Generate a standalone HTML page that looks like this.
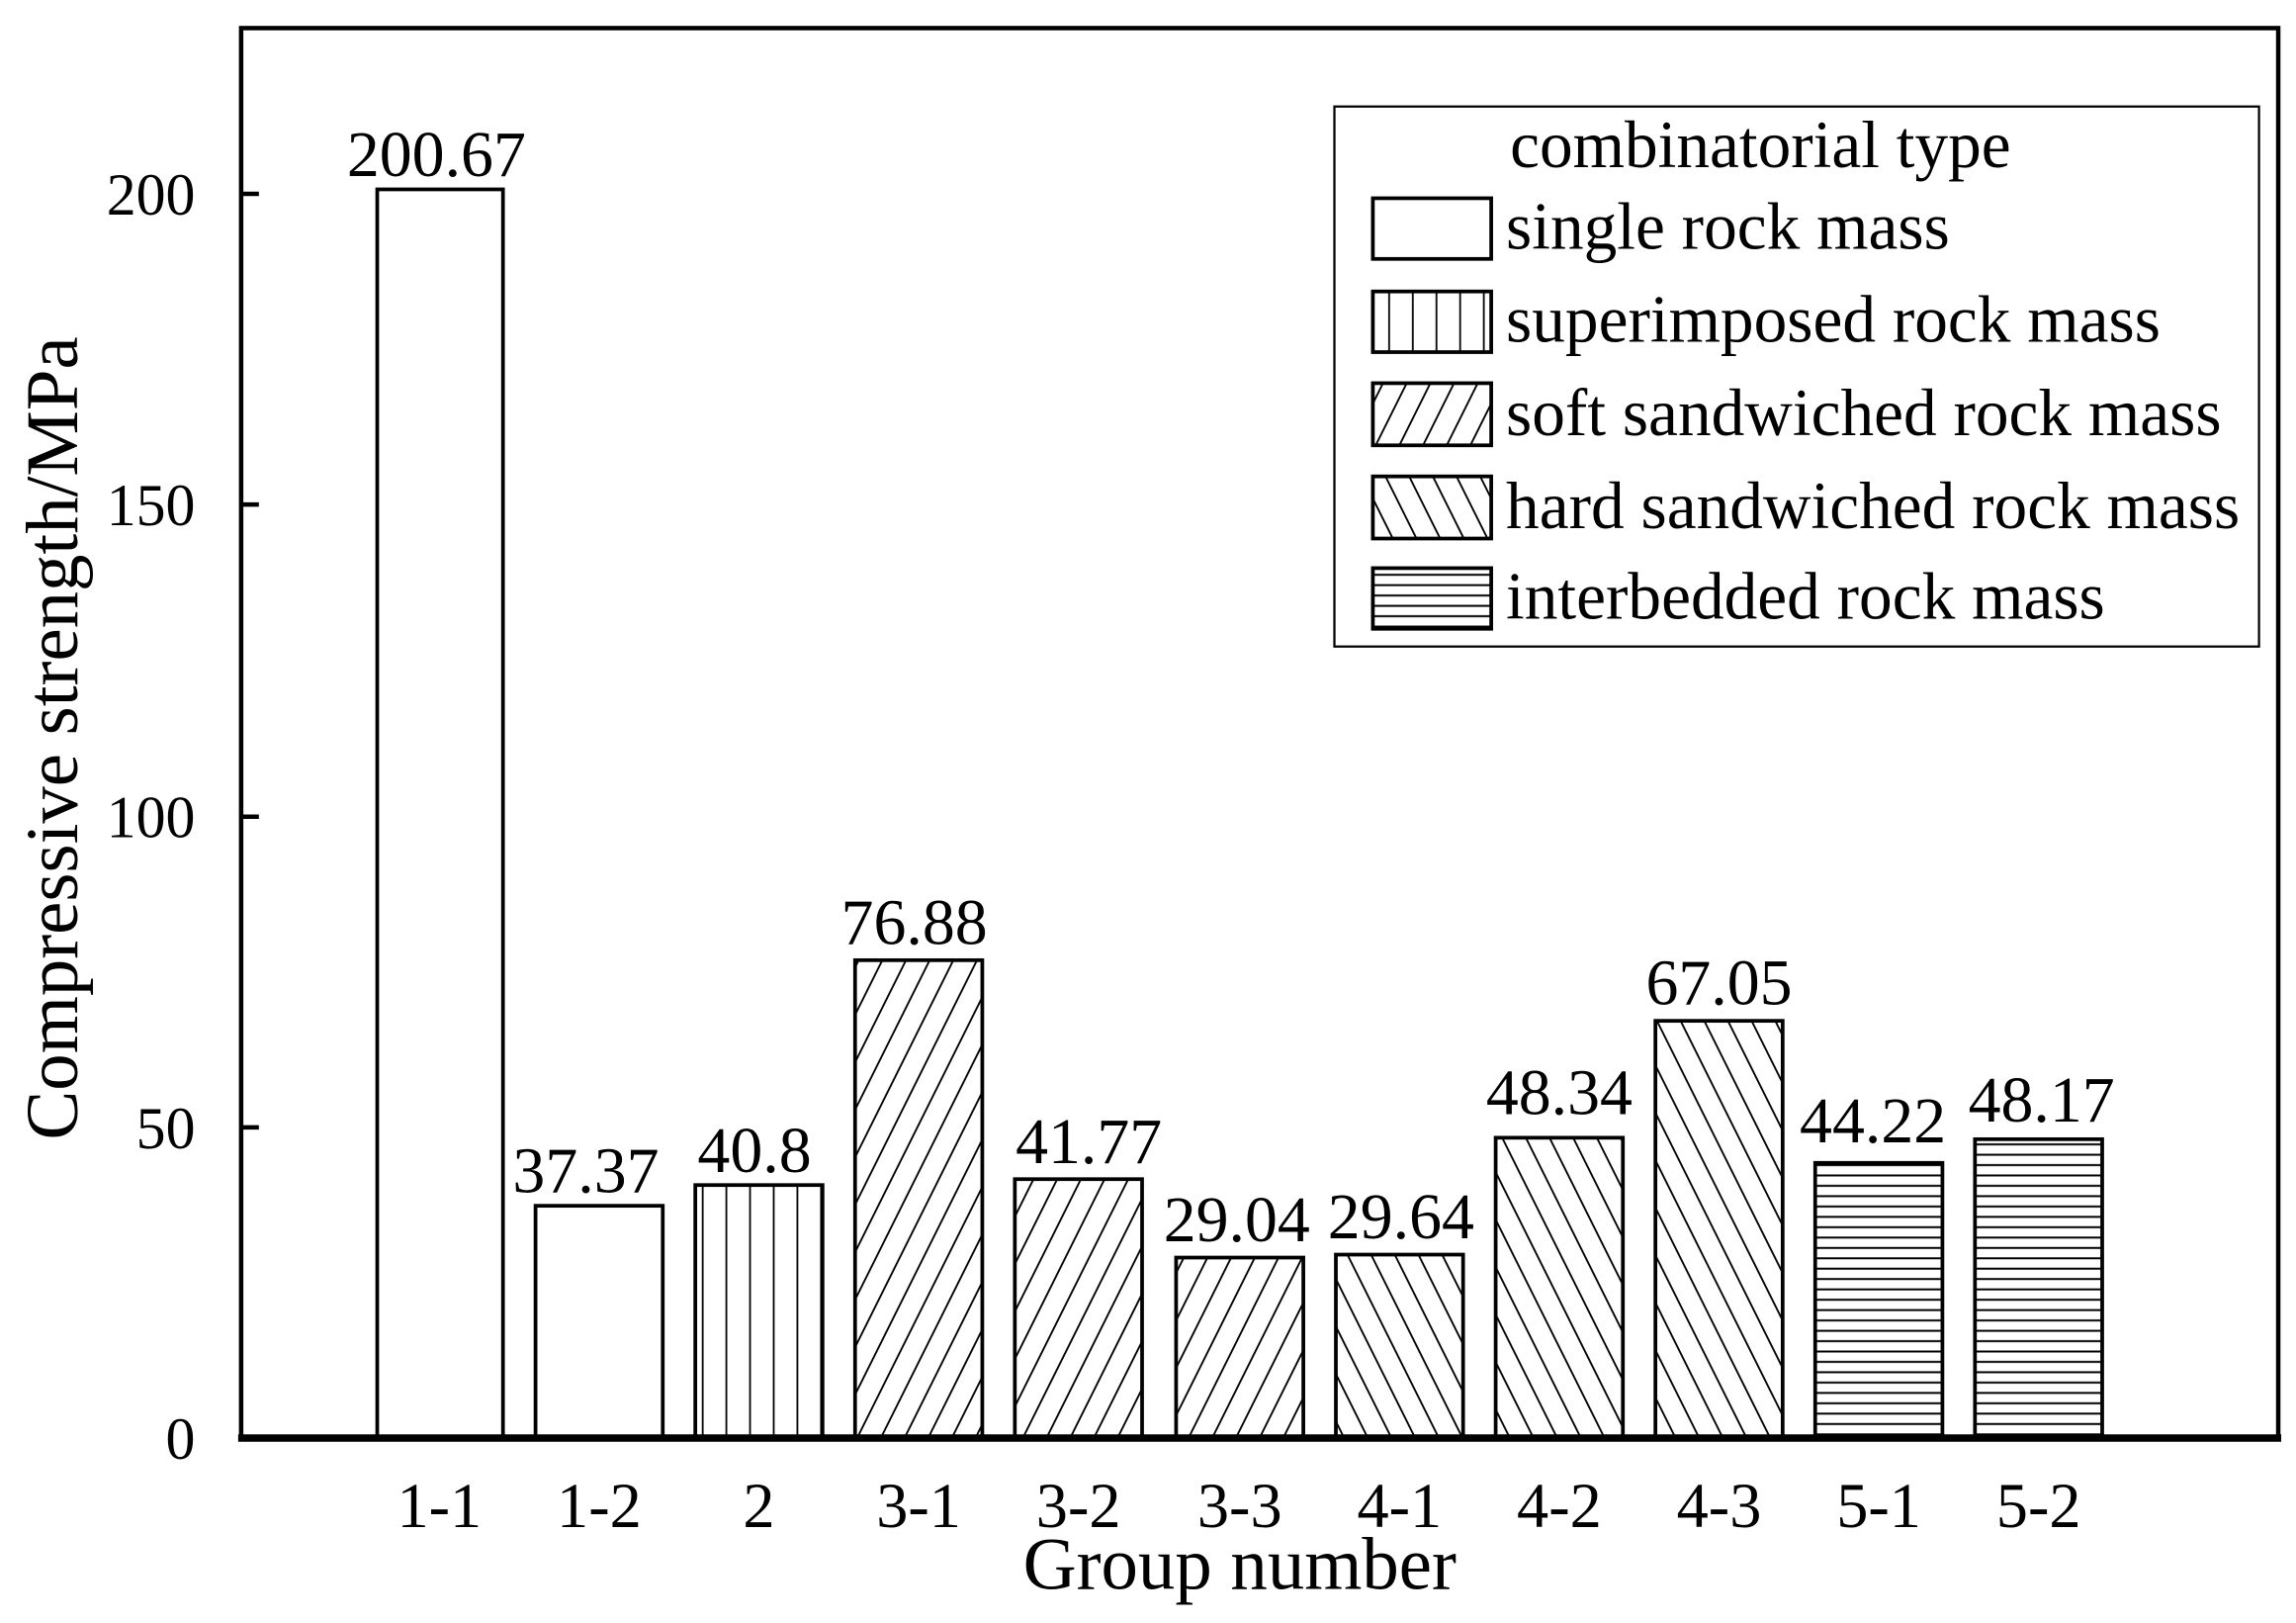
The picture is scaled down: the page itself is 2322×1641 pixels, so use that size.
<!DOCTYPE html>
<html><head><meta charset="utf-8"><style>html,body{margin:0;padding:0;background:#fff}svg{display:block}</style></head>
<body>
<svg width="2322" height="1641" viewBox="0 0 1552 1097" preserveAspectRatio="none" xmlns="http://www.w3.org/2000/svg" font-family="Liberation Serif, serif" fill="#000">
<defs>
<pattern id="pv" patternUnits="userSpaceOnUse" width="16" height="20" x="3"><line x1="8" y1="0" x2="8" y2="20" stroke="#000" stroke-width="1.2"/></pattern>
<pattern id="ph" patternUnits="userSpaceOnUse" width="20" height="7"><line x1="0" y1="3.5" x2="20" y2="3.5" stroke="#000" stroke-width="1.4"/></pattern>
<pattern id="pd1" patternUnits="userSpaceOnUse" width="16" height="32" patternTransform="skewX(-26.5)"><line x1="8" y1="0" x2="8" y2="32" stroke="#000" stroke-width="1.4"/></pattern>
<pattern id="pd2" patternUnits="userSpaceOnUse" width="16" height="32" patternTransform="skewX(26.5)"><line x1="8" y1="0" x2="8" y2="32" stroke="#000" stroke-width="1.4"/></pattern>
</defs>
<rect width="1552" height="1097" fill="#fff"/>
<g stroke="#000" stroke-width="2.5">
<rect x="255" y="128" width="85" height="844" fill="#fff"/>
<rect x="362" y="815" width="86" height="157" fill="#fff"/>
<rect x="470" y="801" width="86" height="171" fill="url(#pv)"/>
<rect x="578" y="649" width="86" height="323" fill="url(#pd1)"/>
<rect x="686" y="797" width="86" height="175" fill="url(#pd1)"/>
<rect x="795" y="850" width="86" height="122" fill="url(#pd1)"/>
<rect x="903" y="848" width="86" height="124" fill="url(#pd2)"/>
<rect x="1011" y="769" width="86" height="203" fill="url(#pd2)"/>
<rect x="1119" y="690" width="86" height="282" fill="url(#pd2)"/>
<rect x="1227" y="786" width="86" height="186" fill="url(#ph)"/>
<rect x="1335" y="770" width="86" height="202" fill="url(#ph)"/>
</g>
<rect x="163" y="19" width="1377" height="953" fill="none" stroke="#000" stroke-width="3"/>
<line x1="161" y1="972" x2="1542" y2="972" stroke="#000" stroke-width="5"/>
<g stroke="#000" stroke-width="3">
<line x1="163" y1="762" x2="175" y2="762"/>
<line x1="163" y1="552" x2="175" y2="552"/>
<line x1="163" y1="341" x2="175" y2="341"/>
<line x1="163" y1="131" x2="175" y2="131"/>
</g>
<g font-size="40" text-anchor="end">
<text x="132" y="986">0</text>
<text x="132" y="776">50</text>
<text x="132" y="566">100</text>
<text x="132" y="355">150</text>
<text x="132" y="145">200</text>
</g>
<g font-size="43" text-anchor="middle">
<text x="297" y="1032">1-1</text>
<text x="405" y="1032">1-2</text>
<text x="513" y="1032">2</text>
<text x="621" y="1032">3-1</text>
<text x="729" y="1032">3-2</text>
<text x="838" y="1032">3-3</text>
<text x="946" y="1032">4-1</text>
<text x="1054" y="1032">4-2</text>
<text x="1162" y="1032">4-3</text>
<text x="1270" y="1032">5-1</text>
<text x="1378" y="1032">5-2</text>
<text x="838" y="1074" font-size="50">Group number</text>
</g>
<g font-size="44" text-anchor="middle">
<text x="295" y="119">200.67</text>
<text x="396" y="806">37.37</text>
<text x="510" y="792">40.8</text>
<text x="618" y="638">76.88</text>
<text x="736" y="786">41.77</text>
<text x="836" y="839">29.04</text>
<text x="947" y="837">29.64</text>
<text x="1054" y="753">48.34</text>
<text x="1162" y="679">67.05</text>
<text x="1266" y="772">44.22</text>
<text x="1380" y="758">48.17</text>
</g>
<text transform="translate(52,499) rotate(-90)" font-size="50" text-anchor="middle">Compressive strength/MPa</text>
<rect x="902" y="72" width="625" height="365" fill="#fff" stroke="#000" stroke-width="1.5"/>
<text x="1190" y="113" font-size="45" text-anchor="middle">combinatorial type</text>
<g stroke="#000" stroke-width="2.5">
<rect x="928" y="134" width="80" height="41" fill="#fff"/>
<rect x="928" y="197" width="80" height="41" fill="url(#pv)"/>
<rect x="928" y="259" width="80" height="42" fill="url(#pd1)"/>
<rect x="928" y="322" width="80" height="42" fill="url(#pd2)"/>
<rect x="928" y="384" width="80" height="41" fill="url(#ph)"/>
</g>
<g font-size="45">
<text x="1018" y="168">single rock mass</text>
<text x="1018" y="231">superimposed rock mass</text>
<text x="1018" y="294">soft sandwiched rock mass</text>
<text x="1018" y="357">hard sandwiched rock mass</text>
<text x="1018" y="418">interbedded rock mass</text>
</g>
</svg>
</body></html>
